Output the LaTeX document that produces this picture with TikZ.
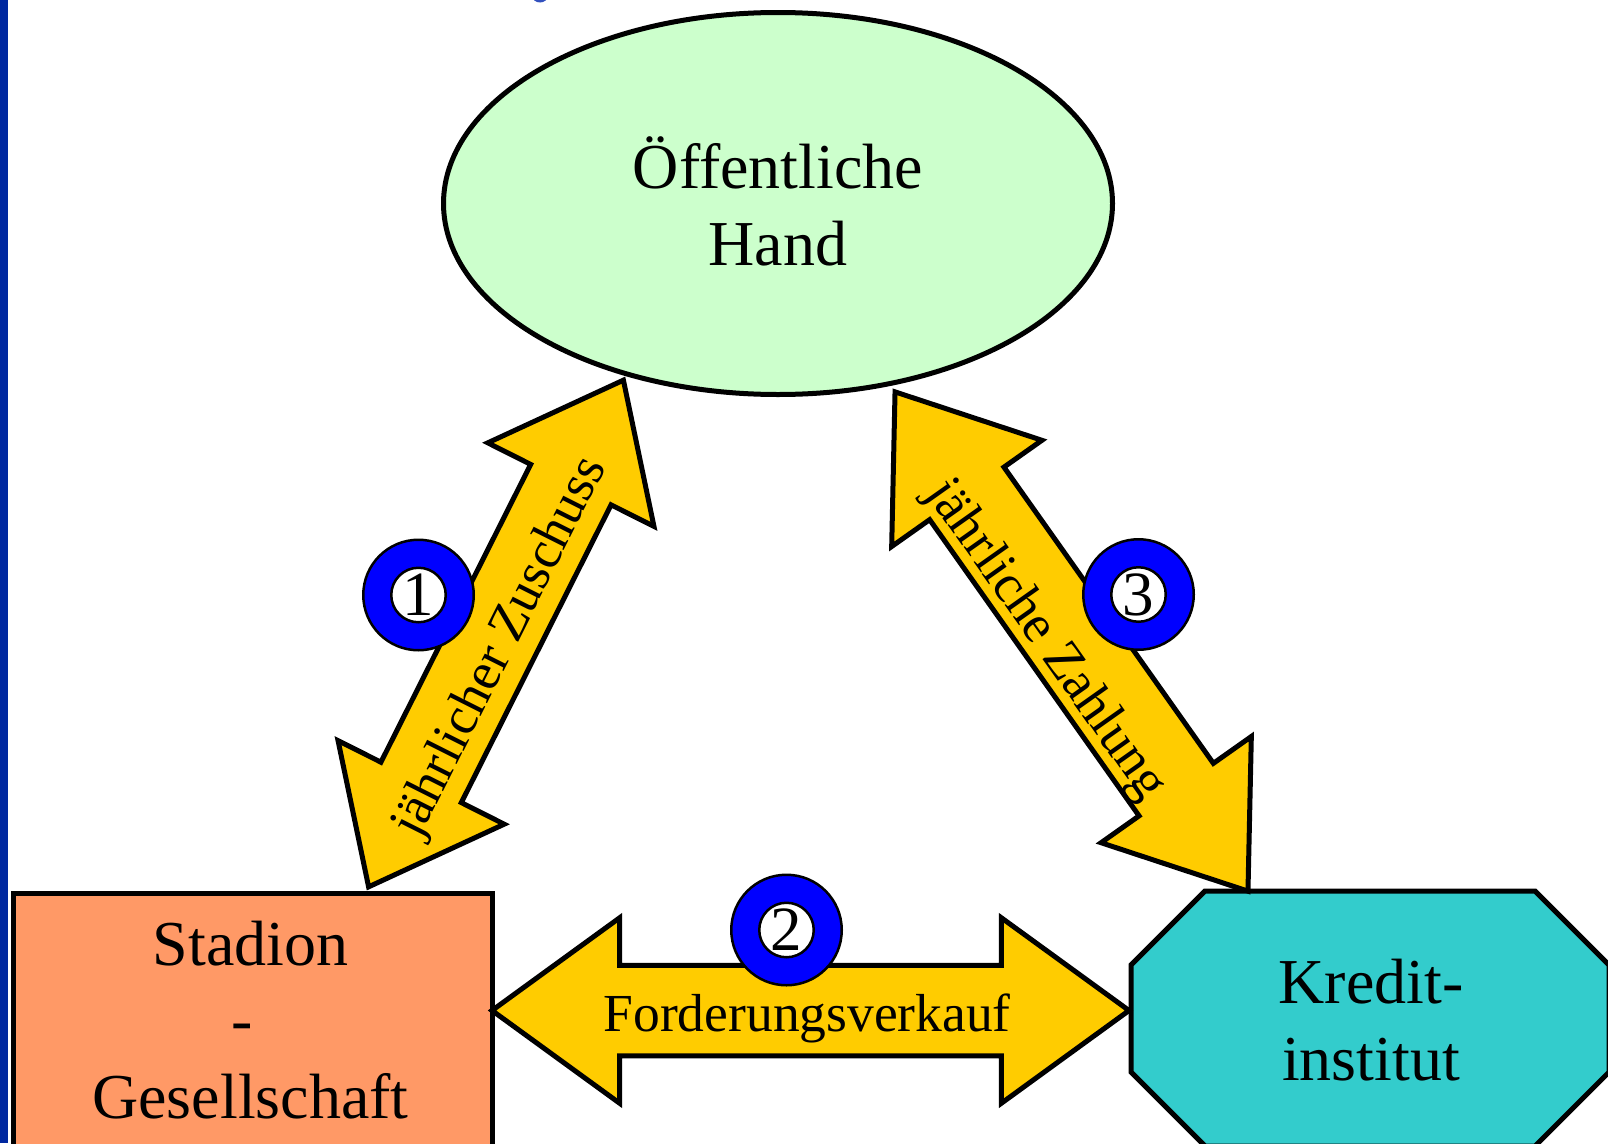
\documentclass[tikz,border=0pt]{standalone}
\usepackage{fontspec}
\setmainfont{Liberation Serif}
\usetikzlibrary{shapes.geometric,shapes.arrows,calc}
\definecolor{barblue}{RGB}{0,40,160}
\definecolor{titleblue}{RGB}{50,80,190}
\definecolor{ringblue}{RGB}{0,0,255}
\definecolor{arrowyellow}{RGB}{255,204,0}
\definecolor{ohgreen}{RGB}{204,255,204}
\definecolor{sgorange}{RGB}{255,153,102}
\definecolor{kicyan}{RGB}{51,204,204}
\begin{document}
\begin{tikzpicture}[x=1pt,y=-1pt,
  shapeline/.style={draw=black,line width=5pt},
  boxtext/.style={font=\fontsize{64}{76.5}\selectfont,align=center,inner sep=0pt},
  blockarrow/.style={double arrow, draw=black, fill=arrowyellow, line width=5pt, inner xsep=0pt, outer sep=0pt},
  arrowtext/.style={font=\fontsize{53.5}{60}\selectfont, inner sep=0pt},
  ring/.style={circle, draw=black, line width=2.5pt, fill=ringblue, minimum size=110.5pt, inner sep=0pt},
  ringcore/.style={circle, draw=black, line width=2.5pt, fill=white, minimum size=54.5pt, inner sep=0pt, font=\fontsize{63}{70}\selectfont},
]
\clip (0,0) rectangle (1608,1143);
\useasboundingbox (0,0) rectangle (1608,1143);
\fill[white] (0,0) rectangle (1608,1143);
\fill[barblue] (0,0) rectangle (8.3,1143);
\fill[titleblue] (540,-4.5) ellipse [x radius=8, y radius=7];

% main shapes
\node[ellipse, shapeline, fill=ohgreen, minimum width=669, minimum height=382, inner sep=0pt] (oh) at (778,203.5) {};
\node[boxtext, anchor=base] (ohtext) at (778,265) {Öffentliche\\Hand};

\node[rectangle, shapeline, fill=sgorange, minimum width=479, minimum height=262, inner sep=0pt, anchor=north west] (sg) at (11,891) {};
\node[boxtext, anchor=base] (sgtext) at (250.5,1118) {Stadion\\-\kern16pt\\Gesellschaft};

\draw[shapeline, fill=kicyan] (1205,891) -- (1535,891) -- (1609,965) -- (1609,1072) -- (1535,1146) -- (1205,1146) -- (1131,1072) -- (1131,965) -- cycle;
\node[boxtext, anchor=base] (ki) at (1371,1080) {Kredit-\\institut};

% arrow end points on the node borders
\coordinate (a1) at (367,890);
\coordinate (b1) at (625,377);
\coordinate (a2) at (490,1010.5);
\coordinate (b2) at (1131,1010.5);
\coordinate (a3) at (893,389);
\coordinate (b3) at (1250,894);

\path let \p1=($(b1)-(a1)$), \n1={atan2(\y1,\x1)}, \n2={veclen(\x1,\y1)-7} in
  node[blockarrow, rotate=\n1, minimum height=\n2, inner ysep=42.5pt, double arrow head extend=48, double arrow tip angle=77] (arr1) at ($(a1)!0.5!(b1)$) {};
\path let \p1=($(b2)-(a2)$), \n1={atan2(\y1,\x1)}, \n2={veclen(\x1,\y1)-4} in
  node[blockarrow, rotate=\n1, minimum height=\n2, inner ysep=42.75pt, double arrow head extend=47.5, double arrow tip angle=72] (arr2) at ($(a2)!0.5!(b2)$) {};
\path let \p1=($(b3)-(a3)$), \n1={atan2(\y1,\x1)}, \n2={veclen(\x1,\y1)-7} in
  node[blockarrow, rotate=\n1, minimum height=\n2, inner ysep=43pt, double arrow head extend=46.5, double arrow tip angle=73] (arr3) at ($(a3)!0.5!(b3)$) {};

% arrow labels
\coordinate (m1) at ($(a1)!0.5!(b1)$);
\coordinate (p1) at ($(m1)!10pt!(a1)$);
\path let \p1=($(b1)-(a1)$), \n1={atan2(\y1,\x1)} in
  node[arrowtext, rotate=\n1] (lab1) at ($(p1)!11pt!-90:(b1)$) {jährlicher Zuschuss};
\coordinate (m3) at ($(a3)!0.5!(b3)$);
\coordinate (p3) at ($(m3)!16pt!(a3)$);
\path let \p1=($(b3)-(a3)$), \n1={atan2(\y1,\x1)} in
  node[arrowtext, rotate=\n1] (lab3) at ($(p3)!21pt!-90:(b3)$) {jährliche Zahlung};
\coordinate (m2) at ($(a2)!0.5!(b2)$);
\node[arrowtext, anchor=base] (lab2) at ($(m2)+(-3.3,21.2)$) {Forderungsverkauf};

% numbered rings
\node[ring] (c1o) at (418.5,595) {};
\node[ringcore] (c1) at (418.5,595) {1};
\node[ring] (c2o) at (786.5,930) {};
\node[ringcore] (c2) at (786.5,930) {2};
\node[ring] (c3o) at (1138.5,594.5) {};
\node[ringcore] (c3) at (1138.5,594.5) {3};
\end{tikzpicture}
\end{document}
